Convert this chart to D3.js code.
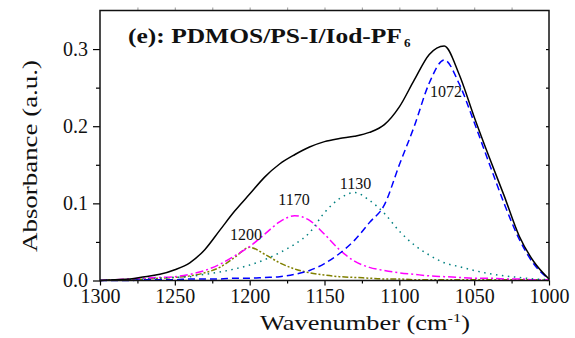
<!DOCTYPE html>
<html lang="en">
<head>
    <meta charset="UTF-8">
    <title>FTIR deconvolution</title>
    <script src="https://cdn.jsdelivr.net/npm/d3@7"></script>
    <style>
        body { margin: 0; background: #fff; }
        svg text { font-family: "Liberation Serif", "Times New Roman", serif; fill: #111; }
    </style>
</head>
<body>
<script>
    const width = 575, height = 338;
    const margin = {top: 10.5, right: 26, bottom: 57.5, left: 100};
    const serif = '"Liberation Serif", "Times New Roman", serif';

    // wavenumbers (cm-1), read every 10 cm-1
    const wavenumber = [1300, 1290, 1280, 1270, 1260, 1250, 1240, 1230, 1220, 1210,
        1200, 1190, 1180, 1170, 1160, 1150, 1140, 1130, 1120, 1110,
        1100, 1090, 1080, 1070, 1060, 1050, 1040, 1030, 1020, 1010, 1000];

    // measured spectrum
    const totalAbs = [0.000, 0.001, 0.002, 0.005, 0.008, 0.014, 0.023, 0.040, 0.065, 0.090,
        0.112, 0.134, 0.151, 0.163, 0.173, 0.180, 0.184, 0.187, 0.192, 0.202,
        0.225, 0.260, 0.293, 0.304, 0.267, 0.212, 0.160, 0.110, 0.058, 0.024, 0.002];
    // fitted bands
    const band1072 = [0.000, 0.000, 0.000, 0.001, 0.001, 0.001, 0.002, 0.002, 0.002, 0.003,
        0.003, 0.004, 0.005, 0.008, 0.013, 0.022, 0.035, 0.052, 0.075, 0.098,
        0.150, 0.200, 0.256, 0.286, 0.255, 0.205, 0.152, 0.100, 0.054, 0.021, 0.002];
    const band1130 = [0.000, 0.001, 0.001, 0.002, 0.003, 0.004, 0.005, 0.008, 0.011, 0.015,
        0.020, 0.027, 0.036, 0.047, 0.062, 0.088, 0.106, 0.114, 0.104, 0.087,
        0.064, 0.046, 0.033, 0.023, 0.018, 0.013, 0.009, 0.006, 0.004, 0.002, 0.001];
    const band1170 = [0.000, 0.001, 0.002, 0.003, 0.004, 0.005, 0.008, 0.013, 0.021, 0.032,
        0.044, 0.060, 0.076, 0.084, 0.078, 0.060, 0.040, 0.025, 0.017, 0.013,
        0.010, 0.008, 0.006, 0.005, 0.004, 0.003, 0.003, 0.002, 0.002, 0.001, 0.001];
    const band1200 = [0.000, 0.001, 0.001, 0.002, 0.003, 0.004, 0.006, 0.010, 0.017, 0.030,
        0.043, 0.034, 0.023, 0.015, 0.010, 0.007, 0.005, 0.004, 0.003, 0.002,
        0.002, 0.001, 0.001, 0.001, 0.001, 0.001, 0.001, 0.001, 0.001, 0.001, 0.000];

    const xTicks = [1300, 1250, 1200, 1150, 1100, 1050, 1000];
    const yTicks = [0.0, 0.1, 0.2, 0.3];

    // band labels: text, wavenumber, absorbance of baseline
    const peakNames = ['1200', '1170', '1130', '1072'];
    const peakX = [1202.5, 1170.4, 1129.3, 1068.8];
    const peakY = [0.052, 0.098, 0.119, 0.238];

    const svg = d3.select('body').append('svg')
        .attr('width', width)
        .attr('height', height);

    const x = d3.scaleLinear().domain([1300, 1000]).range([margin.left, width - margin.right]);
    const y = d3.scaleLinear().domain([0, 0.35]).range([height - margin.bottom, margin.top]);

    const series = [
        {vals: band1200, color: '#808000', dash: '6,2,2,2,2,2'},
        {vals: band1170, color: '#ff00ff', dash: '8,3,2,3'},
        {vals: band1130, color: '#008080', dash: '1.5,4.5'},
        {vals: band1072, color: '#0000ff', dash: '7,4'},
        {vals: totalAbs, color: '#000000', dash: null}
    ];

    const line = d3.line()
        .x(function (d, i) { return x(wavenumber[i]); })
        .y(function (d) { return y(d); })
        .curve(d3.curveMonotoneX);

    svg.append('g').selectAll('path')
        .data(series)
        .enter()
        .append('path')
        .attr('d', function (d) { return line(d.vals); })
        .attr('fill', 'none')
        .attr('stroke', function (d) { return d.color; })
        .attr('stroke-width', 1.5)
        .attr('stroke-dasharray', function (d) { return d.dash; });

    // axes
    const bottom = height - margin.bottom;
    const gx = svg.append('g').attr('transform', 'translate(0,' + bottom + ')')
        .call(d3.axisBottom(x).tickValues(xTicks).tickFormat(d3.format('d')).tickSizeOuter(0).tickSize(5).tickPadding(3));
    svg.append('g').attr('transform', 'translate(0,' + bottom + ')')
        .call(d3.axisBottom(x).tickValues(d3.range(1275, 1000, -50)).tickFormat('').tickSizeOuter(0).tickSize(3));
    const gy = svg.append('g').attr('transform', 'translate(' + margin.left + ',0)')
        .call(d3.axisLeft(y).tickValues(yTicks).tickFormat(d3.format('.1f')).tickSizeOuter(0).tickSize(7).tickPadding(5));
    svg.append('g').attr('transform', 'translate(' + margin.left + ',0)')
        .call(d3.axisLeft(y).tickValues([0.05, 0.15, 0.25]).tickFormat('').tickSizeOuter(0).tickSize(4));
    svg.append('g').attr('transform', 'translate(' + (width - margin.right) + ',0)')
        .call(d3.axisLeft(y).tickValues([0.05, 0.1, 0.15, 0.2, 0.25, 0.3]).tickFormat('').tickSizeOuter(0).tickSize(3));
    svg.append('g').attr('transform', 'translate(0,' + margin.top + ')')
        .call(d3.axisTop(x).tickValues(d3.range(1275, 1000, -25)).tickFormat('').tickSizeOuter(0).tickSize(3))
        .selectAll('line').attr('stroke', '#aaa');

    svg.selectAll('.domain').remove();
    svg.selectAll('.tick line').attr('stroke-width', 1.2);
    svg.selectAll('g').attr('font-family', serif);
    gx.selectAll('text').attr('font-size', 20).attr('fill', '#111');
    gy.selectAll('text').attr('font-size', 20).attr('fill', '#111');

    // frame
    svg.append('rect')
        .attr('x', margin.left).attr('y', margin.top)
        .attr('width', width - margin.left - margin.right)
        .attr('height', bottom - margin.top)
        .attr('fill', 'none').attr('stroke', '#111').attr('stroke-width', 1.5);

    // band labels
    svg.append('g').selectAll('text')
        .data(peakNames)
        .enter()
        .append('text')
        .attr('x', function (d, i) { return x(peakX[i]); })
        .attr('y', function (d, i) { return y(peakY[i]); })
        .attr('text-anchor', 'middle')
        .attr('font-size', 16)
        .text(function (d) { return d; });

    // stretch text horizontally to the width seen in the figure
    function stretch(sel, cx, cy, target, rot) {
        const w = sel.node().getBBox().width;
        sel.attr('transform', 'translate(' + cx + ',' + cy + ')' + (rot ? ' rotate(' + rot + ')' : '') +
            ' scale(' + (target / w) + ',1)');
    }

    const title = svg.append('text').attr('font-size', 20).attr('font-weight', 'bold');
    title.append('tspan').text('(e): PDMOS/PS-I/Iod-PF');
    stretch(title, 128, 43, 274);
    svg.append('text').attr('x', 404).attr('y', 47).attr('font-size', 13).attr('font-weight', 'bold').text('6');

    const xl = svg.append('text').attr('font-size', 21).attr('text-anchor', 'middle');
    xl.append('tspan').text('Wavenumber  (cm');
    xl.append('tspan').attr('font-size', 13).attr('dy', -8).text('-1');
    xl.append('tspan').attr('dy', 8).text(')');
    stretch(xl, 365, 330, 210);

    const yl = svg.append('text').attr('font-size', 21).attr('text-anchor', 'middle')
        .text('Absorbance (a.u.)');
    stretch(yl, 37, 156, 192, -90);
</script>
</body>
</html>
